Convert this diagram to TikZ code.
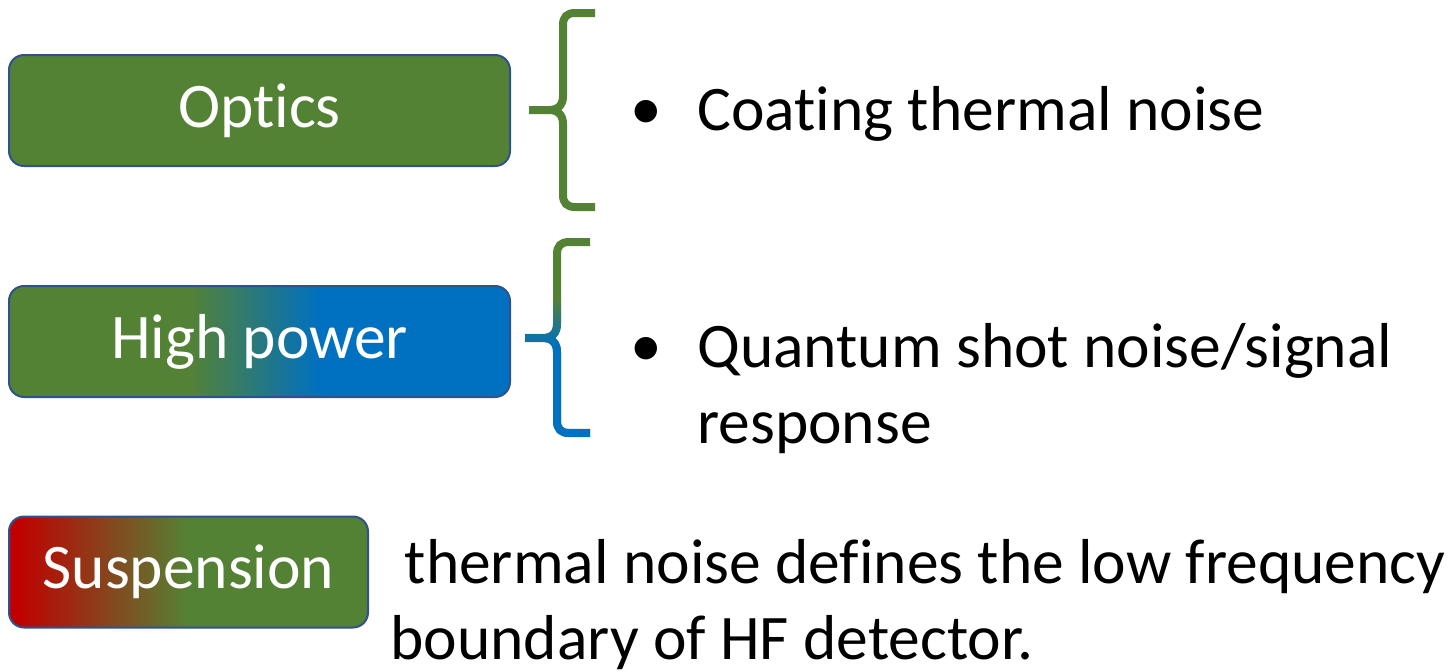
\documentclass[tikz,border=0pt]{standalone}
\usepackage{fontspec}
\setmainfont{Carlito}[RawFeature={-liga;-clig;-dlig;-calt}]
\usepackage{tikz}
\usetikzlibrary{fadings}
\usepackage{xcolor}

\definecolor{optgreen}{HTML}{548235}
\definecolor{pwrblue}{HTML}{0070C0}
\definecolor{suspred}{HTML}{C00000}
\definecolor{boxline}{HTML}{2F528F}

\newcommand{\slidefont}{\fontsize{31.75}{38}\selectfont}

\pgfdeclarehorizontalshading{powershade}{100bp}{color(0bp)=(optgreen); color(43bp)=(optgreen); color(56bp)=(pwrblue); color(100bp)=(pwrblue)}
\pgfdeclarehorizontalshading{suspshade}{100bp}{color(0bp)=(suspred); color(26bp)=(suspred); color(50bp)=(optgreen); color(100bp)=(optgreen)}
\pgfdeclareverticalshading{bracefadeshade}{100bp}{color(0bp)=(white); color(48bp)=(white); color(60bp)=(black); color(100bp)=(black)}
\pgfdeclarefading{bracefade}{\pgfuseshading{bracefadeshade}}

\tikzset{
  topic/.style={draw=boxline, line width=1pt, rounded corners=7.5pt, minimum height=55.5pt, inner sep=0pt, text=white, font=\slidefont},
  brace/.style={line width=4pt},
  item/.style={anchor=base west, inner sep=0pt, align=left, font=\slidefont}
}

\begin{document}
\begin{tikzpicture}[x=0.5pt,y=-0.5pt]
			
			\useasboundingbox (0,0) rectangle (1456,671);
			
			% topic boxes
			\node[topic, fill=optgreen, minimum width=250.5pt] (optics) at (259.5,110.5) {Opt\kern0pt ics};
			\node[topic, shading=powershade, minimum width=250.5pt] (power) at (259.5,341.5) {High power};
			\node[topic, shading=suspshade, minimum width=179.5pt] (susp) at (188.5,572) {Suspension};
			
			% brace tips
			\coordinate (optics tip) at (529,110);
			\coordinate (power tip) at (525,338);
			
			% brace of optics
			\draw[brace, optgreen] (595,13) -- (575,13) .. controls (567,13) and (563,17) .. (563,25) -- (563,96) .. controls (563,105) and (558,110) .. (549,110) -- (optics tip) -- (549,110) .. controls (558,110) and (563,115) .. (563,124) -- (563,195) .. controls (563,203) and (567,207) .. (575,207) -- (595,207);
			
			% brace of high power (green above, blue below)
			\draw[brace, optgreen] (590,242) -- (569,242) .. controls (561,242) and (557,246) .. (557,254) -- (557,324) .. controls (557,333) and (552,338) .. (543,338) -- (power tip) -- (543,338) .. controls (552,338) and (557,343) .. (557,352) -- (557,421) .. controls (557,429) and (561,433) .. (569,433) -- (590,433);
			\draw[brace, pwrblue, path fading=bracefade] (590,242) -- (569,242) .. controls (561,242) and (557,246) .. (557,254) -- (557,324) .. controls (557,333) and (552,338) .. (543,338) -- (power tip) -- (543,338) .. controls (552,338) and (557,343) .. (557,352) -- (557,421) .. controls (557,429) and (561,433) .. (569,433) -- (590,433);
			
			% bullet items (base of a two-line node is its last line)
			\node[item] (coat dot) at (630,129) {•};
			\node[item] (coat) at (697,130) {Coat\kern0pt ing thermal noise};
			\node[item] (shot dot) at (630,366) {•};
			\node[item] (shot) at (697,443) {Quantum shot noise/signal\\response};
			
			% suspension remark
			\node[item] (lowfreq) at (390,659) {\ thermal noise defines the low frequency\\boundary of HF detector.};
			
		\end{tikzpicture}
\end{document}
